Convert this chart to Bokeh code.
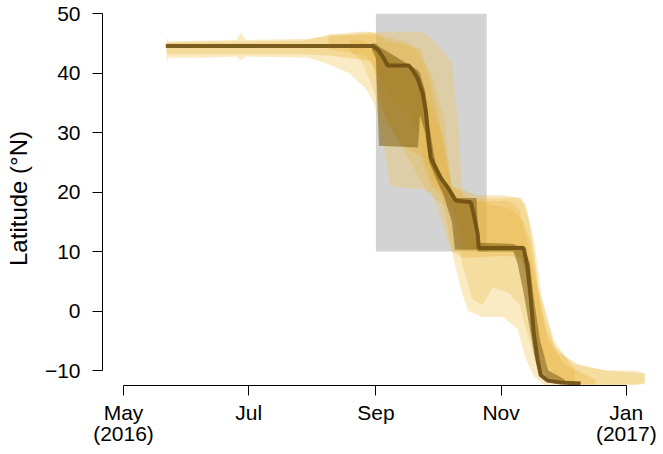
from bokeh.plotting import figure
from bokeh.models import FixedTicker, Range1d
from bokeh.embed import file_html
from bokeh.resources import INLINE

# x = days since 1 May 2016 ; y = latitude (deg N)
tick_days = [0, 61, 123, 184, 245]
tick_labels = ["May\n(2016)", "Jul", "Sep", "Nov", "Jan\n(2017)"]
lat_ticks = [-10, 0, 10, 20, 30, 40, 50]

# grey window (Sep 1 - Oct 25, 10-50 N)
box_left, box_right, box_bottom, box_top = [123], [177], [10], [50]

# light envelope of all tracks
t1_d = [21, 22, 40, 55, 57, 60, 90, 100, 110, 118, 122, 126, 130, 145, 150, 160, 163.5, 165, 168, 175, 185, 192, 196, 200, 204, 210, 220, 235, 254]
t1_lo = [41.6, 42.6, 42.6, 42.8, 42.2, 42.8, 42.6, 41.5, 40, 37.5, 35, 30, 21, 20.5, 20, 10, 5, 3, 0, -1, -1, -3, -8, -11, -12.3, -12.5, -12.5, -12.5, -12.3]
t1_hi = [46, 45.3, 45.5, 45.6, 46.8, 45.6, 45.8, 46.2, 46.5, 46.8, 46.8, 47, 47, 47, 46, 42, 30, 20, 19, 19, 19, 19, 18, 12, 2, -6, -9, -10, -10.5]

t2_d = [21, 60, 88, 100, 115, 121, 124, 128, 135, 145, 150, 155, 160, 165, 172, 185, 194, 197, 200, 203, 207, 215, 230]
t2_lo = [43.2, 43.2, 43.2, 43, 42.3, 42, 38, 32, 28, 26, 21, 19.5, 10, 9, 9, 9.3, 9, 4, -3, -9, -11.5, -12.3, -12.4]
t2_hi = [45.2, 45.3, 45.5, 46.5, 47, 47, 46.5, 45.5, 45, 44, 38, 30, 21, 20.5, 19.5, 19.5, 19, 16, 10, 1, -5, -9, -11.5]

t3_d = [100, 118, 124, 130, 140, 150, 156, 160, 165, 170, 175, 180, 188, 193, 197, 201, 206, 212, 222, 235, 250, 254]
t3_lo = [44, 43, 40, 36, 33, 22, 19.5, 18, 8, 2, 1, 4, 3, 1, -4, -9, -11, -12, -12.3, -12.4, -12.4, -12]
t3_hi = [46.5, 46.5, 46.5, 46, 45, 40, 33, 20, 18.5, 18.5, 18.5, 18.5, 18.5, 17, 11, 5, -3, -7, -9, -10, -10, -10.5]

t4_d = [110, 116, 120, 124, 132, 140, 148, 155, 160, 168, 178, 190, 195, 198, 202, 210, 220]
t4_lo = [44, 42, 39, 35, 30, 25, 20, 18, 17, 10, 10, 10, 8, 2, -6, -11, -12]
t4_hi = [45.5, 45.5, 45, 44, 42, 40, 36, 30, 21, 19, 18, 17, 15, 12, 4, -5, -10]

# inter-quartile band
iq_d = [121, 123, 124.5, 143.5, 144.5, 147, 149, 152, 156, 160, 161.5, 172, 173, 190, 192, 195, 198, 200, 203, 207, 215]
iq_lo = [44, 42.5, 27.8, 27.5, 33, 30, 25, 22.5, 19.5, 15, 10.3, 10.3, 10, 10, 8, 3, -3, -7, -11, -12, -12.3]
iq_hi = [45, 45, 44.5, 40.5, 40, 37, 31, 25, 22, 20, 19, 19, 11.5, 11.3, 11, 11, 8, 2, -5, -10, -11.5]

# median track
med_d = [20.6, 121.5, 124.4, 126.8, 128.7, 139, 140.9, 143.4, 145.8, 147.3, 148.7, 149.7, 152.1, 154.6, 158, 161.9, 169.2, 170.6, 172.6, 173.1, 195, 196.9, 198.4, 199.8, 201.8, 203.3, 206.7, 213, 222.8]
med_lat = [44.6, 44.6, 43.8, 42.5, 41.3, 41.3, 40.5, 39.1, 36.6, 33.7, 28.7, 25.8, 24.1, 22.4, 20.8, 18.6, 18.3, 16.4, 13, 10.6, 10.6, 7.3, 2.3, -3.3, -8.3, -10.8, -11.7, -12, -12.2]

p = figure(width=659, height=450, output_backend="svg", toolbar_location=None,
           x_range=Range1d(-10.23, 256.8), y_range=Range1d(-12.52, 50.39),
           min_border_left=102, min_border_right=9, min_border_top=11, min_border_bottom=65)
p.outline_line_color = None
p.grid.visible = False
p.background_fill_color = "white"

p.quad(left=box_left, right=box_right, bottom=box_bottom, top=box_top,
       fill_color="#d3d3d3", line_color=None)

gold = "#E8B030"
p.varea(x=t1_d, y1=t1_lo, y2=t1_hi, fill_color="#F2C65A", fill_alpha=0.35)
p.varea(x=t2_d, y1=t2_lo, y2=t2_hi, fill_color=gold, fill_alpha=0.3)
p.varea(x=t3_d, y1=t3_lo, y2=t3_hi, fill_color=gold, fill_alpha=0.25)
p.varea(x=t4_d, y1=t4_lo, y2=t4_hi, fill_color=gold, fill_alpha=0.25)
p.varea(x=iq_d, y1=iq_lo, y2=iq_hi, fill_color="#7E5C10", fill_alpha=0.55)
p.line(x=med_d, y=med_lat, line_color="#6E5012", line_width=4, line_alpha=0.9)

font = "Liberation Sans"
for ax in (p.xaxis, p.yaxis):
    ax.axis_line_color = "black"
    ax.major_tick_line_color = "black"
    ax.major_tick_out = 10
    ax.major_tick_in = 0
    ax.minor_tick_line_color = None
    ax.major_label_text_font = font
    ax.major_label_text_font_size = "21px"
    ax.major_label_text_color = "black"

p.xaxis.ticker = FixedTicker(ticks=tick_days)
p.xaxis.major_label_overrides = dict(zip(tick_days, tick_labels))
p.xaxis.bounds = (tick_days[0], tick_days[-1])
p.xaxis.major_label_standoff = 5
p.xaxis.major_label_text_line_height = 0.95

p.yaxis.ticker = FixedTicker(ticks=lat_ticks)
p.yaxis.bounds = (lat_ticks[0], lat_ticks[-1])
p.yaxis.major_label_standoff = 12
p.yaxis.axis_label = "Latitude (°N)"
p.yaxis.axis_label_text_font = font
p.yaxis.axis_label_text_font_style = "normal"
p.yaxis.axis_label_text_font_size = "24px"
p.yaxis.axis_label_text_color = "black"
p.yaxis.axis_label_standoff = 10

open("out.html", "w").write(file_html(p, INLINE))
